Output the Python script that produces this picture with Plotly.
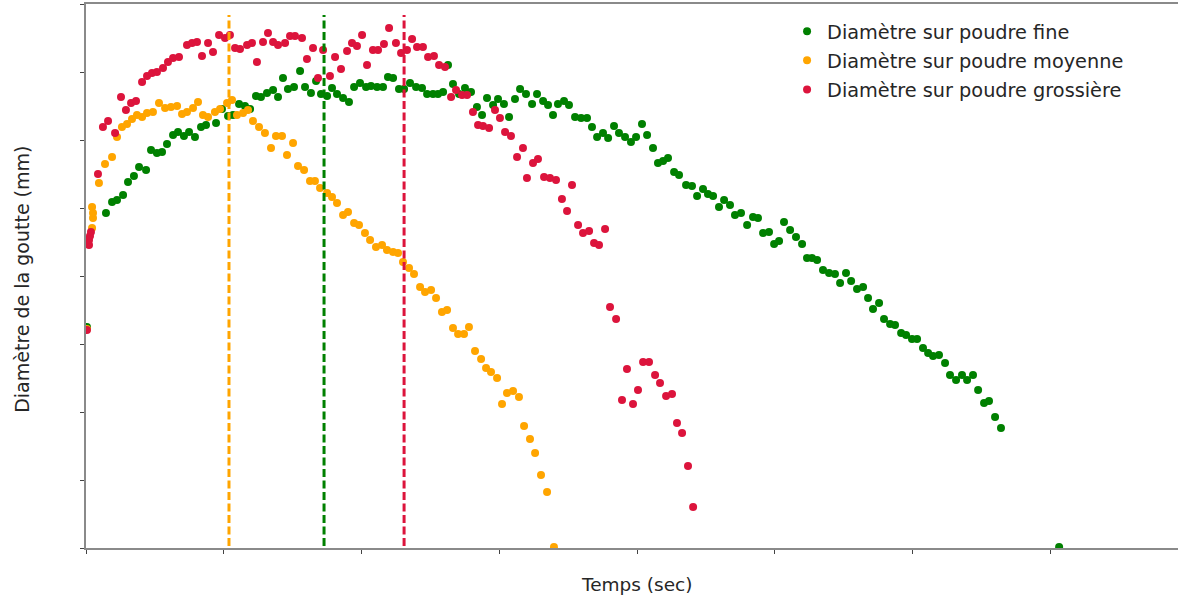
import plotly.graph_objects as go

# ---- data (arbitrary units, ticks every 1) ----
fine_x = [0.007, 0.145, 0.189, 0.225, 0.269, 0.305, 0.348, 0.385, 0.436, 0.472, 0.515, 0.552, 0.588, 0.632, 0.668,
          0.711, 0.748, 0.791, 0.835, 0.871, 0.944, 0.987, 1.031, 1.067, 1.111, 1.154, 1.191, 1.234, 1.270, 1.314,
          1.358, 1.394, 1.430, 1.466, 1.510, 1.554, 1.590, 1.633, 1.670, 1.706, 1.750, 1.786, 1.822, 1.866, 1.909,
          1.946, 1.989, 2.033, 2.069, 2.113, 2.156, 2.192, 2.229, 2.272, 2.309, 2.352, 2.396, 2.439, 2.476, 2.519,
          2.555, 2.592, 2.628, 2.664, 2.708, 2.751, 2.795, 2.838, 2.875, 2.911, 2.955, 2.991, 3.034, 3.071, 3.114,
          3.151, 3.194, 3.238, 3.274, 3.318, 3.354, 3.390, 3.426, 3.470, 3.506, 3.550, 3.594, 3.637, 3.673, 3.710,
          3.753, 3.790, 3.833, 3.869, 3.913, 3.956, 3.993, 4.036, 4.073, 4.116, 4.152, 4.189, 4.225, 4.269, 4.305,
          4.356, 4.399, 4.436, 4.479, 4.515, 4.552, 4.595, 4.632, 4.675, 4.711, 4.755, 4.799, 4.842, 4.878, 4.915,
          4.958, 4.995, 5.031, 5.067, 5.111, 5.154, 5.198, 5.234, 5.270, 5.307, 5.350, 5.394, 5.437, 5.474, 5.517,
          5.554, 5.597, 5.641, 5.677, 5.713, 5.757, 5.793, 5.837, 5.873, 5.917, 5.953, 5.996, 6.033, 6.076, 6.113,
          6.149, 6.192, 6.236, 6.272, 6.316, 6.359, 6.396, 6.439, 6.476, 6.519, 6.555, 6.599, 6.642, 7.064]
fine_y = [3.250, 4.926, 5.088, 5.118, 5.191, 5.382, 5.471, 5.603, 5.559, 5.853, 5.809, 5.824, 5.941, 6.074, 6.118,
          6.059, 6.118, 6.044, 6.191, 6.221, 6.250, 6.456, 6.353, 6.368, 6.529, 6.500, 6.456, 6.647, 6.632, 6.691,
          6.735, 6.632, 6.912, 6.750, 6.779, 7.015, 6.779, 6.691, 6.868, 6.676, 6.647, 6.765, 6.676, 6.618, 6.559,
          6.779, 6.838, 6.779, 6.794, 6.779, 6.779, 6.926, 6.912, 6.750, 6.750, 6.838, 6.779, 6.765, 6.676, 6.676,
          6.676, 6.706, 7.103, 6.824, 6.676, 6.765, 6.706, 6.485, 6.368, 6.618, 6.515, 6.603, 6.529, 6.338, 6.603,
          6.750, 6.676, 6.529, 6.676, 6.574, 6.515, 6.368, 6.529, 6.574, 6.515, 6.338, 6.324, 6.324, 6.191, 6.044,
          6.103, 6.029, 6.206, 6.103, 6.044, 5.971, 6.044, 6.235, 6.074, 5.882, 5.662, 5.691, 5.735, 5.529, 5.485,
          5.338, 5.324, 5.176, 5.279, 5.206, 5.176, 5.015, 5.118, 5.044, 4.897, 4.926, 4.750, 4.868, 4.853, 4.632,
          4.647, 4.471, 4.515, 4.794, 4.676, 4.574, 4.471, 4.265, 4.265, 4.235, 4.088, 4.044, 4.029, 3.897, 4.044,
          3.926, 3.809, 3.838, 3.676, 3.515, 3.603, 3.368, 3.294, 3.279, 3.162, 3.132, 3.074, 3.074, 2.941, 2.868,
          2.824, 2.838, 2.721, 2.544, 2.471, 2.544, 2.471, 2.544, 2.324, 2.132, 2.162, 1.926, 1.765, 0.015]

moy_x = [0.007, 0.044, 0.051, 0.051, 0.044, 0.094, 0.138, 0.189, 0.225, 0.261, 0.298, 0.334, 0.370, 0.407, 0.443,
         0.486, 0.530, 0.574, 0.617, 0.661, 0.697, 0.733, 0.777, 0.813, 0.849, 0.886, 0.936, 0.973, 1.024, 1.060,
         1.096, 1.140, 1.176, 1.212, 1.256, 1.299, 1.343, 1.379, 1.423, 1.459, 1.503, 1.539, 1.583, 1.626, 1.662,
         1.699, 1.750, 1.786, 1.822, 1.866, 1.902, 1.946, 1.982, 2.025, 2.062, 2.105, 2.149, 2.185, 2.229, 2.265,
         2.301, 2.345, 2.381, 2.425, 2.461, 2.505, 2.541, 2.584, 2.621, 2.664, 2.701, 2.744, 2.780, 2.824, 2.868,
         2.904, 2.940, 2.984, 3.020, 3.056, 3.100, 3.143, 3.180, 3.223, 3.260, 3.303, 3.347, 3.397]
moy_y = [3.220, 4.706, 4.853, 4.926, 5.015, 5.368, 5.647, 5.750, 6.044, 6.191, 6.235, 6.309, 6.368, 6.338, 6.397,
         6.412, 6.544, 6.471, 6.485, 6.500, 6.382, 6.412, 6.471, 6.559, 6.368, 6.338, 6.412, 6.456, 6.544, 6.588,
         6.368, 6.397, 6.441, 6.279, 6.191, 6.103, 5.882, 6.059, 6.059, 5.779, 5.956, 5.618, 5.559, 5.397, 5.397,
         5.294, 5.221, 5.162, 5.074, 4.897, 4.941, 4.779, 4.750, 4.632, 4.529, 4.426, 4.456, 4.382, 4.353, 4.338,
         4.206, 4.118, 4.029, 3.838, 3.765, 3.794, 3.676, 3.471, 3.500, 3.235, 3.147, 3.147, 3.250, 2.897, 2.779,
         2.647, 2.588, 2.500, 2.118, 2.279, 2.309, 2.221, 1.794, 1.603, 1.397, 1.074, 0.824, 0.015]

gros_x = [0.007, 0.022, 0.022, 0.029, 0.036, 0.087, 0.123, 0.160, 0.211, 0.254, 0.290, 0.327, 0.363, 0.407, 0.443,
          0.479, 0.515, 0.559, 0.595, 0.632, 0.675, 0.733, 0.770, 0.806, 0.842, 0.886, 0.922, 0.966, 1.009, 1.045,
          1.082, 1.118, 1.169, 1.205, 1.241, 1.285, 1.321, 1.358, 1.394, 1.445, 1.481, 1.517, 1.568, 1.604, 1.648,
          1.684, 1.721, 1.771, 1.808, 1.851, 1.895, 1.931, 1.967, 2.004, 2.040, 2.083, 2.120, 2.163, 2.200, 2.250,
          2.287, 2.330, 2.367, 2.403, 2.446, 2.483, 2.526, 2.563, 2.606, 2.650, 2.686, 2.730, 2.766, 2.809, 2.846,
          2.882, 2.926, 2.969, 3.005, 3.042, 3.085, 3.129, 3.172, 3.201, 3.245, 3.281, 3.325, 3.368, 3.412, 3.455,
          3.492, 3.528, 3.572, 3.608, 3.652, 3.688, 3.724, 3.768, 3.804, 3.848, 3.891, 3.927, 3.971, 4.007, 4.044,
          4.087, 4.131, 4.167, 4.211, 4.254, 4.290, 4.327, 4.370, 4.407]
gros_y = [3.206, 4.456, 4.529, 4.588, 4.647, 5.500, 6.191, 6.279, 6.103, 6.632, 6.441, 6.544, 6.574, 6.853, 6.941,
          6.985, 7.000, 7.059, 7.147, 7.206, 7.221, 7.397, 7.426, 7.441, 7.235, 7.426, 7.294, 7.544, 7.500, 7.544,
          7.353, 7.338, 7.397, 7.426, 7.147, 7.441, 7.574, 7.441, 7.397, 7.426, 7.529, 7.529, 7.500, 7.191, 7.353,
          6.912, 7.324, 6.941, 7.221, 7.044, 7.309, 7.426, 7.382, 7.544, 7.103, 7.324, 7.324, 7.412, 7.647, 7.426,
          7.279, 7.324, 7.485, 7.368, 7.368, 7.221, 7.235, 7.103, 7.074, 6.632, 6.735, 6.662, 6.662, 6.412, 6.221,
          6.206, 6.176, 6.441, 6.324, 6.118, 6.059, 5.750, 5.882, 5.441, 5.662, 5.721, 5.456, 5.441, 5.412, 5.132,
          4.956, 5.338, 4.750, 4.632, 4.662, 4.485, 4.456, 4.691, 3.544, 3.368, 2.176, 2.632, 2.118, 2.324, 2.735,
          2.735, 2.544, 2.426, 2.235, 2.265, 1.838, 1.691, 1.206, 0.603]

# positions of the maxima markers (dashed vertical lines)
vline_x = [1.038, 1.728, 2.309]
vline_top = 7.84

names = ["Diamètre sur poudre fine", "Diamètre sur poudre moyenne", "Diamètre sur poudre grossière"]
colors = ["#008000", "#FFA500", "#DC143C"]
x_title = "Temps (sec)"
y_title = "Diamètre de la goutte (mm)"

FONT = "DejaVu Sans"

fig = go.Figure()
series = [(fine_x, fine_y), (moy_x, moy_y), (gros_x, gros_y)]
for i, ((xs, ys), nm, col) in enumerate(zip(series, names, colors)):
    fig.add_trace(go.Scatter(
        x=xs, y=ys, mode="markers", name=nm, legendgroup=f"g{i}",
        marker=dict(color=col, size=8, line=dict(width=0)),
    ))

for xv, col in zip([vline_x[0], vline_x[1], vline_x[2]], [colors[1], colors[0], colors[2]]):
    fig.add_shape(type="line", xref="x", yref="y", x0=xv, x1=xv, y0=0.03, y1=vline_top,
                  line=dict(color=col, width=3, dash="8px,3.5px"), layer="above")

fig.add_annotation(text=x_title, xref="paper", yref="paper", x=0.5037, y=-0.068,
                   xanchor="center", yanchor="middle", showarrow=False,
                   font=dict(family=FONT, size=18.5, color="#262626"))
fig.add_annotation(text=y_title, xref="paper", yref="paper", x=-0.0586, y=0.493,
                   xanchor="center", yanchor="middle", showarrow=False, textangle=-90,
                   font=dict(family=FONT, size=19, color="#262626"))

fig.update_layout(
    width=1178, height=600,
    margin=dict(l=86, r=0, t=4, b=52),
    paper_bgcolor="white", plot_bgcolor="white",
    font=dict(family=FONT, size=19, color="#262626"),
    showlegend=True,
    legend=dict(x=0.642, y=0.985, xanchor="left", yanchor="top",
                bgcolor="rgba(255,255,255,0)", font=dict(family=FONT, size=19.3, color="#262626"),
                tracegroupgap=1),
    xaxis=dict(range=[0, 7.927], showgrid=False, zeroline=False, showticklabels=False,
               ticks="outside", ticklen=4, tickwidth=1, tickcolor="#444", dtick=1, tick0=0,
               showline=True, linecolor="#8a8a8a", linewidth=2, mirror=True),
    yaxis=dict(range=[0, 8], showgrid=False, zeroline=False, showticklabels=False,
               ticks="outside", ticklen=4, tickwidth=1, tickcolor="#444", dtick=1, tick0=0,
               showline=True, linecolor="#8a8a8a", linewidth=2),
)

fig.write_html("out.html")
